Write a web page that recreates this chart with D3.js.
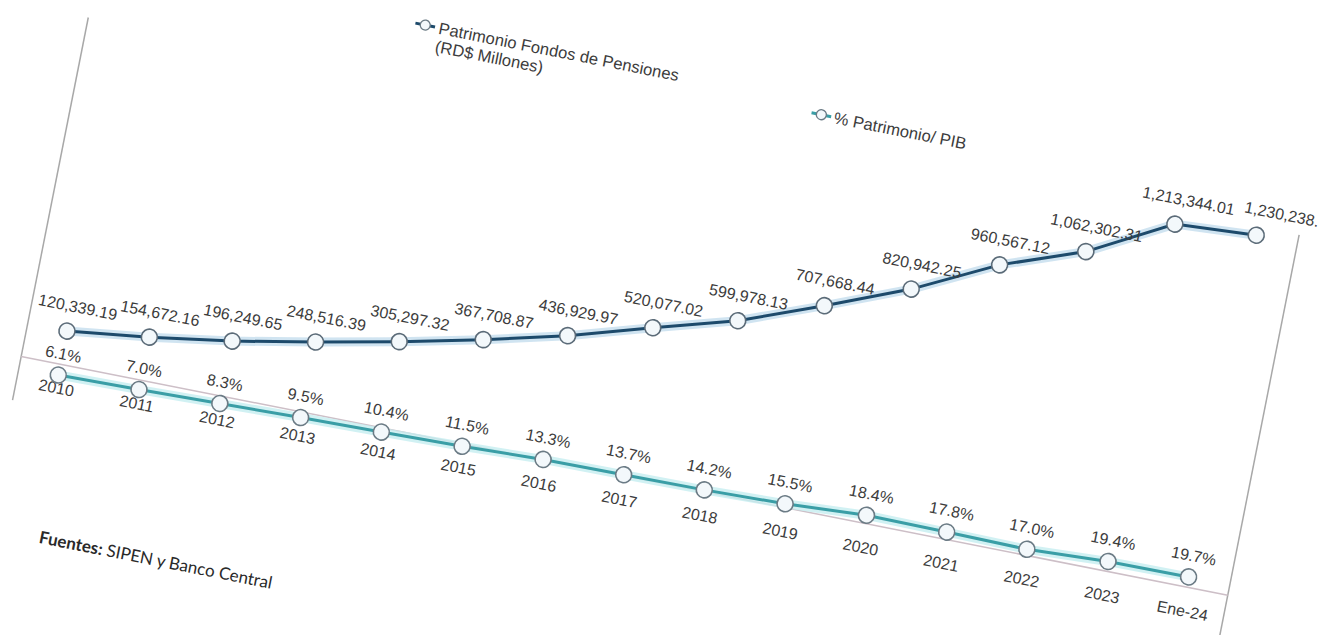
<!DOCTYPE html>
<html>
<head>
<meta charset="utf-8">
<script src="https://cdn.jsdelivr.net/npm/d3@7"></script>
<style>
  html, body { margin: 0; padding: 0; background: #ffffff; }
  svg { display: block; }
  text { font-family: "Liberation Sans", Arial, sans-serif; }
</style>
</head>
<body>
<svg id="chart" width="1318" height="635"></svg>
<script>
// ---- data ----
const categories = ["2010","2011","2012","2013","2014","2015","2016","2017","2018","2019","2020","2021","2022","2023","Ene-24"];
const patrimonio = [120339.19, 154672.16, 196249.65, 248516.39, 305297.32, 367708.87, 436929.97, 520077.02, 599978.13, 707668.44, 820942.25, 960567.12, 1062302.31, 1213344.01, 1230238.35];
const pctPIB = [6.1, 7.0, 8.3, 9.5, 10.4, 11.5, 13.3, 13.7, 14.2, 15.5, 18.4, 17.8, 17.0, 19.4, 19.7];
const legendPatrimonio = ["Patrimonio Fondos de Pensiones", "(RD$ Millones)"];
const legendPct = "% Patrimonio/ PIB";
const sourceBold = "Fuentes:";
const sourceText = " SIPEN y Banco Central";

// ---- layout (flat frame, then rotated like the photographed page) ----
const svg = d3.select("#chart");
const g = svg.append("g").attr("transform", "rotate(11.2)");

const x = d3.scalePoint().domain(categories).range([130, 1278]);
const yP = d3.scaleLinear().domain([0, 1400000]).range([347, -63]);
const yS = d3.scaleLinear().domain([0, 25]).range([366.2, 326.7]);
const axisY = 345.5;

const txtColor = "#3c3c3c";
const fmtP = d3.format(",.2f");
const fmtS = d => d3.format(".1f")(d) + "%";

// chart frame side lines
g.append("line").attr("x1", 90).attr("x2", 90).attr("y1", 0).attr("y2", 390)
  .attr("stroke", "#a8a8a8").attr("stroke-width", 1.5);
g.append("line").attr("x1", 1320).attr("x2", 1320).attr("y1", -22).attr("y2", 400)
  .attr("stroke", "#a8a8a8").attr("stroke-width", 1.5);

// category axis
g.append("line").attr("x1", 90).attr("x2", 1320).attr("y1", axisY).attr("y2", axisY)
  .attr("stroke", "#cdbfc7").attr("stroke-width", 1.5);
const ax = g.append("g").attr("transform", `translate(0,${axisY})`)
  .call(d3.axisBottom(x).tickSize(0));
ax.select(".domain").remove();
ax.selectAll("text").attr("y", 29.5).attr("dy", null)
  .attr("font-size", 16).attr("fill", txtColor)
  .style("font-family", "'Liberation Sans', Arial, sans-serif");

// lines
const lineP = d3.line().x((d, i) => x(categories[i])).y(d => yP(d));
const lineS = d3.line().x((d, i) => x(categories[i])).y(d => yS(d));

g.append("path").datum(pctPIB).attr("d", lineS).attr("fill", "none")
  .attr("stroke", "#c6eef0").attr("stroke-width", 9).attr("stroke-linejoin", "round").attr("opacity", 0.8);
g.append("path").datum(pctPIB).attr("d", lineS).attr("fill", "none")
  .attr("stroke", "#3a9ea6").attr("stroke-width", 3);

g.append("path").datum(patrimonio).attr("d", lineP).attr("fill", "none")
  .attr("stroke", "#c4ddee").attr("stroke-width", 9).attr("stroke-linejoin", "round").attr("opacity", 0.8);
g.append("path").datum(patrimonio).attr("d", lineP).attr("fill", "none")
  .attr("stroke", "#1d4a6b").attr("stroke-width", 3);

// markers
g.selectAll(".mS").data(pctPIB).enter().append("circle")
  .attr("cx", (d, i) => x(categories[i])).attr("cy", d => yS(d)).attr("r", 8)
  .attr("fill", "#f3f8fb").attr("stroke", "#6b7b85").attr("stroke-width", 1.6);
g.selectAll(".mP").data(patrimonio).enter().append("circle")
  .attr("cx", (d, i) => x(categories[i])).attr("cy", d => yP(d)).attr("r", 8)
  .attr("fill", "#f3f8fb").attr("stroke", "#5b6b78").attr("stroke-width", 1.6);

// data labels
const last = patrimonio.length - 1;
g.selectAll(".lP").data(patrimonio).enter().append("text")
  .attr("x", (d, i) => x(categories[i]) + (i === last ? 30 : i === last - 1 ? 9 : 6))
  .attr("y", d => yP(d) - 20)
  .attr("text-anchor", "middle").attr("font-size", 16).attr("fill", txtColor)
  .text(d => fmtP(d));
g.selectAll(".lS").data(pctPIB).enter().append("text")
  .attr("x", (d, i) => x(categories[i]) + 1).attr("y", d => yS(d) - 16)
  .attr("text-anchor", "middle").attr("font-size", 16).attr("fill", txtColor)
  .text(d => fmtS(d));

// legend
function legendIcon(cx, cy, color) {
  g.append("line").attr("x1", cx - 10).attr("x2", cx + 10).attr("y1", cy).attr("y2", cy)
    .attr("stroke", color).attr("stroke-width", 3);
  g.append("circle").attr("cx", cx).attr("cy", cy).attr("r", 5)
    .attr("fill", "#f3f8fb").attr("stroke", "#6b7b85").attr("stroke-width", 1.3);
}
legendIcon(422, -58, "#1d4a6b");
const lt = g.append("text").attr("x", 436).attr("y", -52).attr("font-size", 16.6).attr("fill", txtColor);
legendPatrimonio.forEach((s, i) => {
  lt.append("tspan").attr("x", 436).attr("dy", i === 0 ? 0 : 18.5).text(s);
});
legendIcon(828, -47, "#3a9ea6");
g.append("text").attr("x", 841).attr("y", -41).attr("font-size", 16.6).attr("fill", txtColor).text(legendPct);

// source note
const src = g.append("text").attr("x", 143).attr("y", 525).attr("font-size", 17).attr("fill", "#2a2a2a")
  .style("font-family", "Lato, 'Open Sans', sans-serif");
src.append("tspan").attr("font-weight", "bold").text(sourceBold);
src.append("tspan").text(sourceText);
</script>
</body>
</html>
